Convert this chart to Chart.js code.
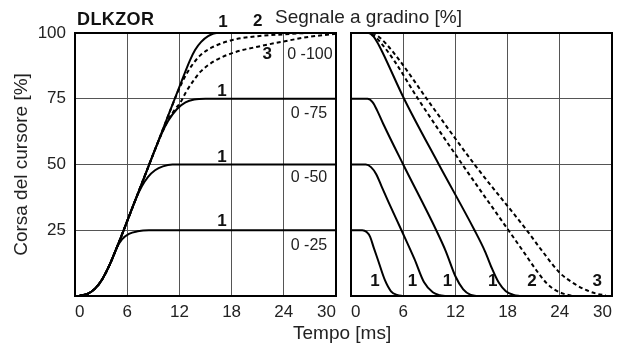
<!DOCTYPE html>
<html>
<head>
<meta charset="utf-8">
<script src="https://cdn.jsdelivr.net/npm/chart.js@4.4.1/dist/chart.umd.min.js"></script>
<style>
  html, body { margin: 0; padding: 0; background: #fff; }
  #wrap { position: relative; width: 624px; height: 347px; font-family: "Liberation Sans", Arial, sans-serif; color: #222; }
  canvas { position: absolute; top: 0; }
  #left { left: 0; }
  #right { left: 342px; }
  .txt { position: absolute; white-space: nowrap; line-height: 1; }
  #model { left: 77px; top: 10px; font-size: 18px; font-weight: bold; letter-spacing: 0.4px; color: #111; }
  #signal { left: 275px; top: 7px; font-size: 19px; }
  #xtitle { left: 293px; top: 323px; font-size: 19px; }
</style>
</head>
<body>
<div id="wrap">
  <canvas id="left" width="342" height="347"></canvas>
  <canvas id="right" width="282" height="347"></canvas>
  <div class="txt" id="model">DLKZOR</div>
  <div class="txt" id="signal">Segnale a gradino [%]</div>
  <div class="txt" id="xtitle">Tempo [ms]</div>
</div>
<script>
// Step opening: stroke [%] versus time [ms], one curve per step signal
const upT25 = [0.5, 1.5, 2.3, 3.1, 4.0, 4.8, 5.4, 6.2, 7.2, 8.5, 30];
const upP25 = [0, 0.9, 2.8, 6.2, 12, 18.3, 21.5, 23.6, 24.6, 25, 25];
const upT50 = [0.5, 1.5, 2.3, 3.1, 4.0, 5.0, 6.0, 7.0, 7.7, 8.4, 9.2, 10.1, 11.2, 30];
const upP50 = [0, 0.9, 2.8, 6.2, 12, 20, 28.5, 37, 41.8, 45.3, 47.8, 49.3, 50, 50];
const upT75 = [0.5, 1.5, 2.3, 3.1, 4.0, 5.0, 6.0, 8.0, 9.3, 10.0, 10.7, 11.7, 12.7, 13.7, 15, 30];
const upP75 = [0, 0.9, 2.8, 6.2, 12, 20, 28.5, 45.5, 56.5, 62, 66.5, 71, 73.6, 74.7, 75, 75];
const upT100 = [0.5, 1.5, 2.3, 3.1, 4.0, 5.0, 6.0, 8.0, 10.0, 12.0, 13.2, 13.8, 14.5, 15.3, 16.3, 30];
const upP100 = [0, 0.9, 2.8, 6.2, 12, 20, 28.5, 45.5, 62.5, 79.5, 89.5, 93.5, 96.6, 98.8, 100, 100];
const upT100b = [0.5, 1.5, 2.3, 3.1, 4.0, 5.0, 6.0, 8.0, 10.0, 11.0, 11.8, 12.5, 13.4, 14.4, 15.8, 18.2, 21, 24, 27, 30];
const upP100b = [0, 0.9, 2.8, 6.2, 12, 20, 28.5, 45.5, 62.5, 71, 77.5, 82.5, 87.5, 91.5, 94.6, 97.4, 98.8, 99.5, 100, 100];
const upT100c = [0.5, 1.5, 2.3, 3.1, 4.0, 5.0, 6.0, 8.0, 9.0, 10.0, 10.8, 11.5, 12.1, 12.8, 13.6, 14.4, 16, 18.2, 21, 24, 27, 30];
const upP100c = [0, 0.9, 2.8, 6.2, 12, 20, 28.5, 45.5, 54, 62, 67.5, 71, 73.5, 77.8, 81.8, 85.2, 89.3, 92.5, 94.8, 96.8, 98.6, 99.7];

// Step closing back to 0
const dnT25 = [0, 1.3, 1.8, 2.2, 2.6, 3.1, 3.9, 4.6, 5.3, 6.0];
const dnP25 = [25, 25, 24.3, 22.5, 18.5, 13.7, 6, 1.8, 0.4, 0];
const dnT50 = [0, 1.7, 2.3, 2.9, 3.5, 4.3, 5.8, 7.3, 8.4, 9.4, 10.2, 10.8];
const dnP50 = [50, 50, 49, 46.3, 41.8, 35.8, 25, 14, 5.2, 1.4, 0.3, 0];
const dnT75 = [0, 1.9, 2.5, 3.0, 3.7, 6.0, 9.8, 10.9, 12.0, 12.9, 13.7, 14.5];
const dnP75 = [75, 75, 73.6, 70.6, 65.5, 50, 25, 17, 7.5, 2.5, 0.5, 0];
const dnT100 = [0, 2.0, 2.6, 3.0, 3.6, 6.1, 10.1, 14.2, 15.4, 16.2, 17.0, 17.8, 18.7, 19.5];
const dnP100 = [100, 100, 98.6, 96.6, 92.8, 75, 50, 25, 17, 10.5, 5, 1.8, 0.4, 0];
const dnT100b = [0, 2.1, 2.7, 3.5, 5.0, 7.7, 12.8, 18.1, 20.0, 21.3, 22.5, 23.5, 24.4, 25.5];
const dnP100b = [100, 100, 98.8, 96, 89.3, 75, 50, 25, 16, 9.8, 4.8, 2.2, 0.9, 0];
const dnT100c = [0, 2.4, 3.1, 4.0, 5.6, 8.7, 14.2, 20.2, 22.0, 24.0, 25.6, 27.0, 28.2, 29.3];
const dnP100c = [100, 100, 98.8, 96, 89.5, 75, 50, 25, 17, 8.8, 4.8, 2.3, 0.9, 0.2];

const timeTicks = [0, 6, 12, 18, 24, 30];
const strokeTicks = [25, 50, 75, 100];

// signal labels at the right side of the opening panel
const levelText = ['0 -100', '0 -75', '0 -50', '0 -25'];
const levelX = [24.4, 24.8, 24.8, 24.8];
const levelY = [91.6, 69.2, 44.9, 19];

// curve numbers
const upTagText = ['1', '2', '3', '1', '1', '1'];
const upTagX = [17.0, 21.0, 22.1, 16.9, 16.9, 16.9];
const upTagY = [104, 104.5, 92, 78, 52.7, 28.5];
const dnTagText = ['1', '1', '1', '1', '2', '3'];
const dnTagX = [2.76, 7.07, 11.1, 16.3, 20.8, 28.3];
const dnTagY = [5.5, 5.5, 5.5, 5.5, 5.5, 5.5];

Chart.defaults.font.family = '"Liberation Sans", Arial, sans-serif';
Chart.defaults.color = '#222';

function pts(t, p) {
  return t.map((v, i) => ({ x: v, y: p[i] }));
}

function curve(t, p, dashed) {
  return {
    data: pts(t, p),
    borderColor: '#000',
    borderWidth: 2,
    borderDash: dashed ? [4, 3] : [],
    pointRadius: 0,
    fill: false,
    cubicInterpolationMode: 'monotone'
  };
}

// black box round the plot area
const frame = {
  id: 'frame',
  beforeDatasetsDraw(chart) {
    const a = chart.chartArea;
    const ctx = chart.ctx;
    ctx.save();
    ctx.strokeStyle = '#000';
    ctx.lineWidth = 2;
    ctx.strokeRect(a.left, a.top, a.right - a.left, a.bottom - a.top);
    ctx.restore();
  }
};

// text placed in data units
const notes = {
  id: 'notes',
  afterDatasetsDraw(chart, args, opts) {
    const ctx = chart.ctx;
    const xs = chart.scales.x, ys = chart.scales.y;
    ctx.save();
    ctx.textBaseline = 'middle';
    (opts.items || []).forEach(it => {
      ctx.font = it.font;
      ctx.fillStyle = it.color;
      ctx.textAlign = it.align;
      ctx.fillText(it.text, xs.getPixelForValue(it.x), ys.getPixelForValue(it.y));
    });
    ctx.restore();
  }
};

function items(text, x, y, font, color, align) {
  return text.map((s, i) => ({ text: s, x: x[i], y: y[i], font, color, align }));
}

const tagFont = 'bold 17px "Liberation Sans", Arial, sans-serif';
const levelFont = '16px "Liberation Sans", Arial, sans-serif';

function panel(id, datasets, showY, padLeft, padRight, notesList) {
  return new Chart(document.getElementById(id), {
    type: 'line',
    data: { datasets },
    options: {
      responsive: false,
      animation: false,
      layout: { padding: { top: 33, left: padLeft, right: padRight, bottom: 0 } },
      plugins: {
        legend: { display: false },
        tooltip: { enabled: false },
        notes: { items: notesList }
      },
      scales: {
        x: {
          type: 'linear',
          min: 0,
          max: 30,
          afterBuildTicks: s => { s.ticks = timeTicks.map(v => ({ value: v })); },
          afterFit: s => { s.height = 51; },
          grid: { color: '#555', lineWidth: 1, drawTicks: false },
          border: { display: false },
          ticks: { align: 'inner', padding: 6, color: '#222', font: { size: 17 } }
        },
        y: {
          min: 0,
          max: 100,
          afterBuildTicks: s => { s.ticks = strokeTicks.map(v => ({ value: v })); },
          afterFit: s => { s.width = showY ? 75 : 0; },
          grid: { color: '#555', lineWidth: 1, drawTicks: false },
          border: { display: false },
          ticks: { display: showY, padding: 9, color: '#222', font: { size: 17 } },
          title: {
            display: showY,
            text: 'Corsa del cursore [%]',
            color: '#222',
            font: { size: 19 },
            padding: { top: 10, bottom: 0 }
          }
        }
      }
    },
    plugins: [frame, notes]
  });
}

panel('left', [
  curve(upT25, upP25),
  curve(upT50, upP50),
  curve(upT75, upP75),
  curve(upT100c, upP100c, true),
  curve(upT100b, upP100b, true),
  curve(upT100, upP100)
], true, 0, 6,
  items(levelText, levelX, levelY, levelFont, '#222', 'left')
    .concat(items(upTagText, upTagX, upTagY, tagFont, '#111', 'center')));

panel('right', [
  curve(dnT25, dnP25),
  curve(dnT50, dnP50),
  curve(dnT75, dnP75),
  curve(dnT100, dnP100),
  curve(dnT100b, dnP100b, true),
  curve(dnT100c, dnP100c, true)
], false, 9, 12,
  items(dnTagText, dnTagX, dnTagY, tagFont, '#111', 'center'));
</script>
</body>
</html>
